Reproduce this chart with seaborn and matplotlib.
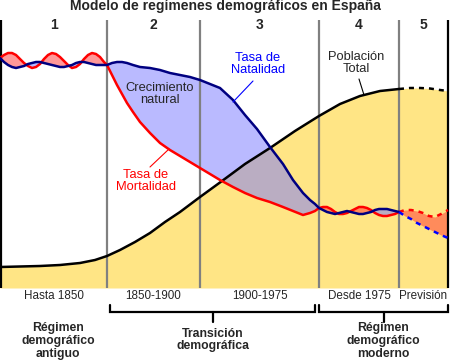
import numpy as np
import seaborn as sns
import matplotlib.pyplot as plt

# valores (x en px, y en px desde arriba)
x_tasas = [0, 4, 8, 12, 16, 20, 24, 28, 32, 36, 40, 44, 48, 52, 56, 60, 64, 68, 72, 76, 80, 84, 88, 92, 96, 100, 104,
           107, 112, 117, 122, 127, 133, 140, 150, 160, 170, 180, 190, 200, 210, 220, 233, 245, 257, 270, 283, 293, 303,
           310, 315, 319, 323, 327, 331, 335, 339, 343, 347, 351, 355, 359, 363, 367, 371, 375, 379, 383, 387, 391, 395,
           399]
natalidad = [58, 62, 65, 67, 68, 67, 66, 64, 63, 62, 62, 63, 64, 65, 66, 67, 67, 66, 65, 63, 62, 62, 63, 64, 65, 65, 65,
             65, 63, 62, 62, 63, 65, 67, 68, 70, 73, 75, 77, 80, 84, 88, 100, 115, 129, 147, 164, 180, 193,
             200, 204, 208, 210, 212, 213, 214, 213, 212, 211, 212, 213, 214, 214, 213, 212, 210, 209, 209, 209, 210, 211,
             212]
mortalidad = [58, 55, 53, 53, 55, 59, 63, 66, 68, 67, 64, 59, 55, 53, 54, 57, 61, 65, 68, 67, 64, 59, 55, 53, 54, 57, 62,
              65, 75, 85, 94, 103, 112, 122, 133, 143, 150, 156, 162, 168, 174, 180, 187, 193, 198, 202, 207, 211, 215,
              213, 211, 208, 207, 207, 209, 212, 214, 214, 213, 211, 209, 207, 207, 208, 210, 213, 215, 216, 216, 215, 214,
              212]

x_prevision = [399, 405, 411, 417, 423, 429, 435, 441, 448]
natalidad_prevision = [212, 216, 219, 223, 226, 229, 232, 235, 238]
mortalidad_prevision = [212, 210, 210, 211, 213, 216, 217, 214, 210]

x_poblacion = [0, 20, 40, 60, 80, 95, 107, 120, 135, 150, 165, 180, 200, 222, 245, 270, 295, 319, 340, 360, 380, 399]
poblacion = [267, 266.5, 266, 265, 263, 260, 256, 250, 242, 233, 222, 212, 197, 181, 164, 148, 131, 116, 104, 96, 91, 89]
x_poblacion_prevision = [399, 410, 420, 430, 440, 448]
poblacion_prevision = [89, 88, 88, 88.5, 90, 91]

etapas = ["1", "2", "3", "4", "5"]
periodos = ["Hasta 1850", "1850-1900", "1900-1975", "Desde 1975", "Previsión"]
limites = [1, 107, 200, 319, 399, 448]

BASE = 288
AMARILLO = "#ffe585"
ROJO = "#ff0000"
AZUL = "#000080"
LW = 1.8

sns.set_style("white")
plt.rcParams['font.family'] = ['Liberation Sans', 'DejaVu Sans']

fig = plt.figure(figsize=(4.5, 3.61), dpi=100)
ax = fig.add_axes([0, 0, 1, 1])
ax.set_xlim(0, 450)
ax.set_ylim(361, 0)
ax.axis("off")

# poblacion (relleno amarillo)
xp_all = np.array(x_poblacion + x_poblacion_prevision[1:])
yp_all = np.array(poblacion + poblacion_prevision[1:])
ax.fill_between(xp_all, yp_all, BASE, color=AMARILLO, lw=0, zorder=1)

# crecimiento natural
xt = np.array(x_tasas)
nat = np.array(natalidad)
mor = np.array(mortalidad)
ax.fill_between(xt, nat, mor, where=nat <= mor, interpolate=True, color="#7777ff", alpha=0.5, lw=0, zorder=2)
ax.fill_between(xt, nat, mor, where=nat > mor, interpolate=True, color="#ff3333", alpha=0.5, lw=0, zorder=2)
ax.fill_between(x_prevision, natalidad_prevision, mortalidad_prevision, color="#ff3333", alpha=0.5, lw=0, zorder=2)

# separadores de etapas
for i, xl in enumerate(limites):
    color = "black" if i in (0, len(limites) - 1) else "#808080"
    ax.plot([xl, xl], [20, BASE], color=color, lw=1.6, zorder=3, solid_capstyle="butt")

sns.lineplot(x=x_poblacion, y=poblacion, ax=ax, color="black", lw=LW, sort=False, estimator=None, zorder=4)
sns.lineplot(x=x_poblacion_prevision, y=poblacion_prevision, ax=ax, color="black", lw=LW, sort=False,
             estimator=None, zorder=4, linestyle=(0, (2, 2)))
sns.lineplot(x=x_tasas, y=mortalidad, ax=ax, color=ROJO, lw=LW, sort=False, estimator=None, zorder=5)
sns.lineplot(x=x_prevision, y=mortalidad_prevision, ax=ax, color=ROJO, lw=LW, sort=False, estimator=None,
             zorder=5, linestyle=(0, (2, 2)))
sns.lineplot(x=x_tasas, y=natalidad, ax=ax, color=AZUL, lw=LW, sort=False, estimator=None, zorder=6)
sns.lineplot(x=x_prevision, y=natalidad_prevision, ax=ax, color="#0000ff", lw=LW, sort=False, estimator=None,
             zorder=6, linestyle=(0, (2, 2)))

# textos
ax.text(225, 10, "Modelo de regímenes demográficos en España", ha="center", va="baseline",
        fontsize=10, fontweight="bold")
for i, et in enumerate(etapas):
    xc = (limites[i] + limites[i + 1]) / 2
    ax.text(xc, 29, et, ha="center", va="baseline", fontsize=10, fontweight="bold")
    ax.text(xc, 296, periodos[i], ha="center", va="center", fontsize=8.4)

ax.text(258, 64, "Tasa de\nNatalidad", ha="center", va="center", fontsize=9.3, color="#0000ff", linespacing=1.0)
ax.plot([253, 233], [81, 102], color="#0000ff", lw=0.8, zorder=7)
ax.text(160, 94, "Crecimiento\nnatural", ha="center", va="center", fontsize=9.3, linespacing=1.0, zorder=7)
ax.text(146, 181, "Tasa de\nMortalidad", ha="center", va="center", fontsize=9.3, color=ROJO, linespacing=1.0)
ax.plot([150, 169], [167, 149], color=ROJO, lw=0.8, zorder=7)
ax.text(356, 63, "Población\nTotal", ha="center", va="center", fontsize=9.3, linespacing=1.0)
ax.plot([359, 364], [79, 95], color="black", lw=0.8, zorder=7)

# llaves inferiores
for x0, x1 in [(110, 315), (319, 448)]:
    xm = (x0 + x1) / 2
    ax.plot([x0, x0, x1, x1], [305, 312, 312, 305], color="black", lw=1.6, solid_joinstyle="miter")
    ax.plot([xm, xm], [312, 322], color="black", lw=1.6)

ax.text(58, 341, "Régimen\ndemográfico\nantiguo", ha="center", va="center", fontsize=8.8,
        fontweight="bold", linespacing=1.1)
ax.text(213, 340, "Transición\ndemográfica", ha="center", va="center", fontsize=8.8,
        fontweight="bold", linespacing=1.1)
ax.text(383, 341, "Régimen\ndemográfico\nmoderno", ha="center", va="center", fontsize=8.8,
        fontweight="bold", linespacing=1.1)

fig.savefig("out.png", dpi=100)
